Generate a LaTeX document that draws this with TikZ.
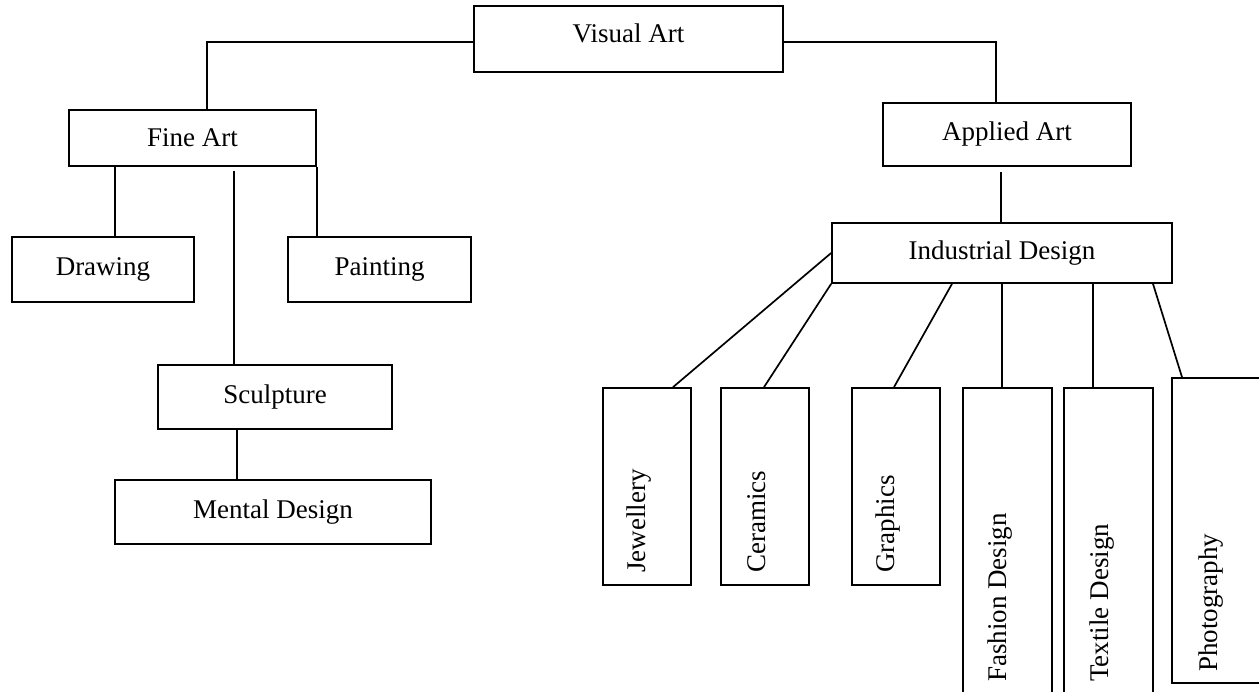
\documentclass[tikz,border=0pt]{standalone}
\usepackage{fontspec}
\setmainfont{Liberation Serif}
\usetikzlibrary{calc}
\begin{document}
\begin{tikzpicture}[x=1pt,y=-1pt,
  box/.style={draw, line width=1.7pt, inner sep=0pt, font=\fontsize{27}{32}\selectfont},
  lbl/.style={inner sep=0pt, font=\fontsize{27}{32}\selectfont},
  conn/.style={line width=1.7pt}]
\useasboundingbox (0,0) rectangle (1259,692);
% boxes
\node[box, minimum width=309pt, minimum height=66pt] (va) at (628.5,39) {};
\node[lbl] (vaT) at (628.5,33) {Visual Art};
\node[box, minimum width=247pt, minimum height=56pt] (fa) at (192.5,138) {Fine Art};
\node[box, minimum width=248pt, minimum height=63pt] (aa) at (1007,134.5) {Applied Art};
\node[box, minimum width=182pt, minimum height=65pt] (dr) at (103,269.5) {Drawing};
\node[box, minimum width=183pt, minimum height=65pt] (pa) at (379.5,269.5) {Painting};
\node[box, minimum width=234pt, minimum height=64pt] (sc) at (275,397) {Sculpture};
\node[box, minimum width=316pt, minimum height=64pt] (md) at (273,512) {Mental Design};
\node[box, minimum width=340pt, minimum height=60pt] (id) at (1002,253) {Industrial Design};
\node[box, minimum width=88pt, minimum height=197pt] (je) at (647,486.5) {};
\node[box, minimum width=88pt, minimum height=197pt] (ce) at (765,486.5) {};
\node[box, minimum width=88pt, minimum height=197pt] (gr) at (896,486.5) {};
\node[box, minimum width=89pt, minimum height=312pt] (fd) at (1007.5,544) {};
\node[box, minimum width=89pt, minimum height=312pt] (td) at (1108.5,544) {};
\node[box, minimum width=90pt, minimum height=305pt] (ph) at (1217,530.5) {};
% rotated labels
\node[lbl, rotate=90, anchor=west] (jeT) at (639,573) {Jewellery};
\node[lbl, rotate=90, anchor=west] (ceT) at (757,573) {Ceramics};
\node[lbl, rotate=90, anchor=west] (grT) at (888,573) {Graphics};
\node[lbl, rotate=90, anchor=west] (fdT) at (1000,682) {Fashion Design};
\node[lbl, rotate=90, anchor=west] (tdT) at (1102,682) {Textile Design};
\node[lbl, rotate=90, anchor=west] (phT) at (1211,672) {Photography};
% connectors
\draw[conn] ([yshift=-3pt]va.west) -| ([xshift=14.5pt]fa.north);
\draw[conn] ([yshift=-3pt]va.east) -| ([xshift=-11pt]aa.north);
\draw[conn] ([xshift=12pt]dr.north |- fa.south) -- ([xshift=12pt]dr.north);
\draw[conn] (fa.south east) -- (fa.south east |- pa.north);
\coordinate (scTop) at (234,171);
\draw[conn] (scTop) -- (scTop |- sc.north);
\draw[conn] ([xshift=-38pt]sc.south) -- ([xshift=-38pt]sc.south |- md.north);
\coordinate (aaGap) at (1001,172);
\draw[conn] (aaGap) -- (aaGap |- id.north);
\draw[conn] (id.west) -- ([xshift=26pt]je.north);
\draw[conn] (id.south west) -- ([xshift=-1pt]ce.north);
\draw[conn] ([xshift=-50pt]id.south) -- ([xshift=-2pt]gr.north);
\draw[conn] (id.south) -- (id.south |- fd.north);
\draw[conn] ([xshift=91pt]id.south) -- ([xshift=91pt]id.south |- td.north);
\draw[conn] ([xshift=151pt]id.south) -- ([xshift=-35pt]ph.north);
\end{tikzpicture}
\end{document}
